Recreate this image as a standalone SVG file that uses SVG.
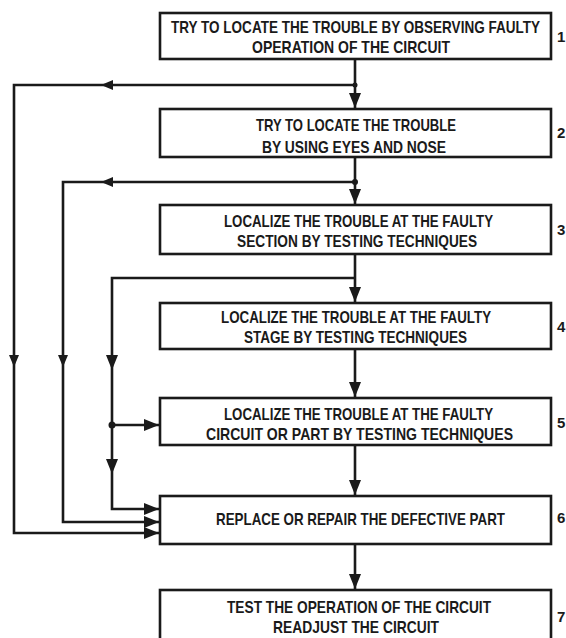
<svg xmlns="http://www.w3.org/2000/svg" width="566" height="638" viewBox="0 0 566 638">
<style>
.box{fill:#fff;stroke:#1a1a1a;stroke-width:2.6}
.t{font-family:"Liberation Sans",Arial,sans-serif;font-size:16.5px;font-weight:bold;fill:#1a1a1a;text-anchor:middle}
.n{font-family:"Liberation Sans",Arial,sans-serif;font-size:15px;font-weight:bold;fill:#1a1a1a}
.c{fill:none;stroke:#1a1a1a;stroke-width:2.6}
.ah{fill:#1a1a1a}
</style>
<defs>
<marker id="arr" markerUnits="userSpaceOnUse" markerWidth="16" markerHeight="12" refX="15" refY="6" orient="auto">
<path d="M0,0 L15,6 L0,12 Z" fill="#1a1a1a"/>
</marker>
<path id="mid" d="M-7,-5 L5,0 L-7,5 Z"/>
<path id="midb" d="M-9,-6 L6,0 L-9,6 Z"/>
</defs>
<rect width="566" height="638" fill="#fff"/>
<g id="connectors">
<path class="c" d="M355,59 V108" marker-end="url(#arr)"/>
<path class="c" d="M355,157 V204" marker-end="url(#arr)"/>
<path class="c" d="M355,254 V302" marker-end="url(#arr)"/>
<path class="c" d="M355,349 V397" marker-end="url(#arr)"/>
<path class="c" d="M355,445 V495" marker-end="url(#arr)"/>
<path class="c" d="M355,544 V589" marker-end="url(#arr)"/>
<path class="c" d="M355,85 H14 V533 H159" marker-end="url(#arr)"/>
<path class="c" d="M355,182 H63 V522 H159" marker-end="url(#arr)"/>
<path class="c" d="M355,278 H112 V509 H159" marker-end="url(#arr)"/>
<path class="c" d="M112,425 H159" marker-end="url(#arr)"/>
<use href="#mid" class="ah" transform="translate(106,85) rotate(180)"/>
<use href="#mid" class="ah" transform="translate(106,182) rotate(180)"/>
<use href="#mid" class="ah" transform="translate(14,362) rotate(90)"/>
<use href="#mid" class="ah" transform="translate(63,362) rotate(90)"/>
<use href="#midb" class="ah" transform="translate(112,364) rotate(90)"/>
<use href="#midb" class="ah" transform="translate(112,468) rotate(90)"/>
<circle class="ah" cx="355" cy="182" r="3"/>
<circle class="ah" cx="355" cy="85" r="2.5"/>
<circle class="ah" cx="112" cy="425" r="3.5"/>
</g>
<g id="node1">
<rect class="box" x="160" y="13" width="391" height="46"/>
<text class="t" transform="translate(355.5,33) scale(0.78,1)" textLength="473" lengthAdjust="spacingAndGlyphs">TRY TO LOCATE THE TROUBLE BY OBSERVING FAULTY</text>
<text class="t" transform="translate(351,53) scale(0.78,1)" textLength="253.8" lengthAdjust="spacingAndGlyphs">OPERATION OF THE CIRCUIT</text>
<text class="n" x="557" y="42">1</text>
</g>
<g id="node2">
<rect class="box" x="160" y="109" width="391" height="48"/>
<text class="t" transform="translate(356,131) scale(0.78,1)" textLength="256.4" lengthAdjust="spacingAndGlyphs">TRY TO LOCATE THE TROUBLE</text>
<text class="t" transform="translate(354,153) scale(0.78,1)" textLength="235.9" lengthAdjust="spacingAndGlyphs">BY USING EYES AND NOSE</text>
<text class="n" x="557" y="138">2</text>
</g>
<g id="node3">
<rect class="box" x="160" y="205" width="391" height="49"/>
<text class="t" transform="translate(358.5,227) scale(0.78,1)" textLength="344.9" lengthAdjust="spacingAndGlyphs">LOCALIZE THE TROUBLE AT THE FAULTY</text>
<text class="t" transform="translate(357,247) scale(0.78,1)" textLength="307.7" lengthAdjust="spacingAndGlyphs">SECTION BY TESTING TECHNIQUES</text>
<text class="n" x="557" y="235">3</text>
</g>
<g id="node4">
<rect class="box" x="160" y="303" width="391" height="46"/>
<text class="t" transform="translate(356,323) scale(0.78,1)" textLength="346.2" lengthAdjust="spacingAndGlyphs">LOCALIZE THE TROUBLE AT THE FAULTY</text>
<text class="t" transform="translate(355.5,343) scale(0.78,1)" textLength="285.9" lengthAdjust="spacingAndGlyphs">STAGE BY TESTING TECHNIQUES</text>
<text class="n" x="557" y="332">4</text>
</g>
<g id="node5">
<rect class="box" x="160" y="398" width="391" height="47"/>
<text class="t" transform="translate(358.5,420) scale(0.78,1)" textLength="344.9" lengthAdjust="spacingAndGlyphs">LOCALIZE THE TROUBLE AT THE FAULTY</text>
<text class="t" transform="translate(359.5,439.5) scale(0.78,1)" textLength="393.6" lengthAdjust="spacingAndGlyphs">CIRCUIT OR PART BY TESTING TECHNIQUES</text>
<text class="n" x="557" y="428">5</text>
</g>
<g id="node6">
<rect class="box" x="160" y="496" width="391" height="48"/>
<text class="t" transform="translate(360.5,525) scale(0.78,1)" textLength="370.5" lengthAdjust="spacingAndGlyphs">REPLACE OR REPAIR THE DEFECTIVE PART</text>
<text class="n" x="557" y="523">6</text>
</g>
<g id="node7">
<rect class="box" x="160" y="590" width="391" height="60"/>
<text class="t" transform="translate(359,613) scale(0.78,1)" textLength="338.5" lengthAdjust="spacingAndGlyphs">TEST THE OPERATION OF THE CIRCUIT</text>
<text class="t" transform="translate(356,633) scale(0.78,1)" textLength="212.8" lengthAdjust="spacingAndGlyphs">READJUST THE CIRCUIT</text>
<text class="n" x="557" y="622">7</text>
</g>
</svg>
